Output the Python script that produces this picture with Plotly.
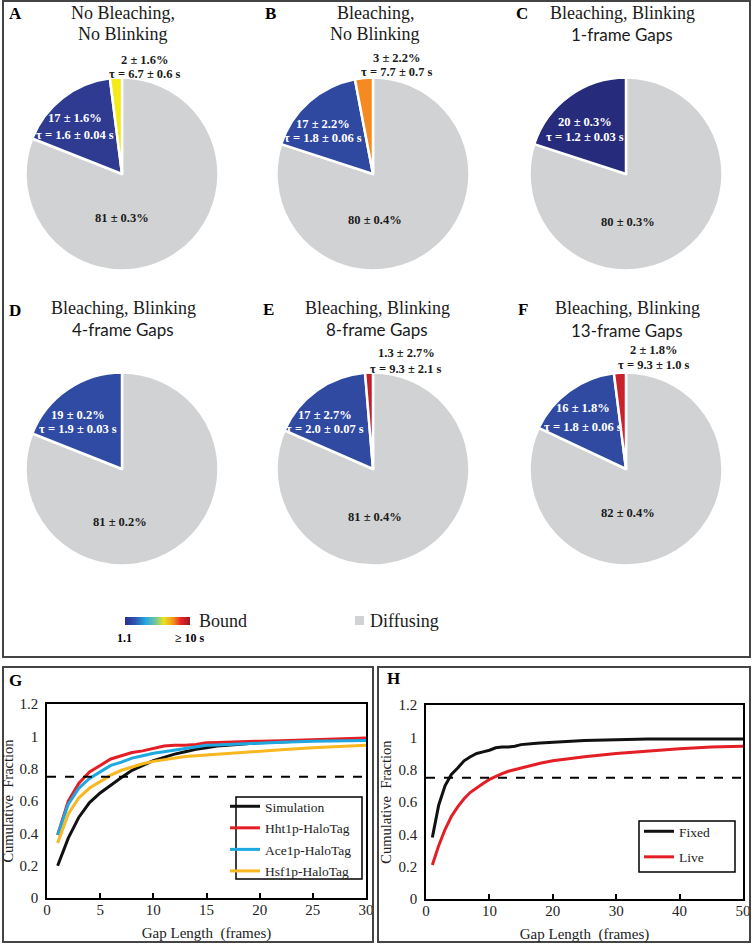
import plotly.graph_objects as go
import numpy as np

W, H = 753, 944
SERIF = "Liberation Serif, Times New Roman, serif"
SANS = "Lato, Open Sans, sans-serif"

# ---------------- Pie data (panels A-F) ----------------
panel_letters = ["A", "B", "C", "D", "E", "F"]
title_line1 = ["No Bleaching,", "Bleaching,", "Bleaching, Blinking",
               "Bleaching, Blinking", "Bleaching, Blinking", "Bleaching, Blinking"]
title_line2 = ["No Blinking", "No Blinking", "1-frame Gaps",
               "4-frame Gaps", "8-frame Gaps", "13-frame Gaps"]
title_line2_sans = [False, False, True, True, True, True]

diffusing_pct = [81, 80, 80, 81, 81, 82]
bound_fast_pct = [17, 17, 20, 19, 17, 16]
bound_slow_pct = [2, 3, 0, 0, 1.3, 2]

diffusing_text = ["81 ± 0.3%", "80 ± 0.4%", "80 ± 0.3%", "81 ± 0.2%", "81 ± 0.4%", "82 ± 0.4%"]
fast_text = [("17 ± 1.6%", "τ = 1.6 ± 0.04 s"), ("17 ± 2.2%", "τ = 1.8 ± 0.06 s"),
             ("20 ± 0.3%", "τ = 1.2 ± 0.03 s"), ("19 ± 0.2%", "τ = 1.9 ± 0.03 s"),
             ("17 ± 2.7%", "τ = 2.0 ± 0.07 s"), ("16 ± 1.8%", "τ = 1.8 ± 0.06 s")]
slow_text = [("2 ± 1.6%", "τ = 6.7 ± 0.6 s"), ("3 ± 2.2%", "τ = 7.7 ± 0.7 s"), None, None,
             ("1.3 ± 2.7%", "τ = 9.3 ± 2.1 s"), ("2 ± 1.8%", "τ = 9.3 ± 1.0 s")]

# styles
diff_color = "#d1d2d4"
fast_colors = ["#2e3b91", "#2f48a0", "#262b7b", "#2f4ba3", "#2f4aa0", "#2f4aa0"]
slow_colors = ["#f4ea16", "#f58a22", None, None, "#c1202b", "#c8232c"]

# layout (pixel positions)
pie_centers = [(122, 174), (373, 174), (626, 174), (122, 469), (373, 469), (626, 469)]
pie_r = 96.5
letter_pos = [(16, 13), (270, 13), (522, 13), (15, 310), (268, 309), (523, 309)]
title_x = [123, 375, 622, 123, 377, 627]
title_y1 = [13, 13, 13, 308, 308, 308]
title_y2 = [34, 34, 34, 329, 329, 330]
diff_lab_pos = [(122, 218), (375, 220), (628, 222), (120, 522), (375, 517), (628, 513)]
fast_lab_pos = [(75, 118, 135), (323, 124, 138), (585, 122, 137), (78, 415, 429), (325, 415, 429), (583, 408, 427)]
slow_lab_pos = [(145, 60, 74), (397, 58, 72), None, None, (406, 353, 369), (654, 350, 365)]

# ---------------- Gap-length CDF data (panels G, H) ----------------
g_x = [1, 2, 3, 4, 5, 6, 7, 8, 9, 10, 11, 12, 13, 14, 15, 16, 17, 18, 19, 20, 22, 25, 28, 30]
g_sim = [0.20, 0.37, 0.50, 0.59, 0.65, 0.70, 0.745, 0.79, 0.82, 0.85, 0.87, 0.89, 0.905, 0.92,
         0.93, 0.94, 0.945, 0.95, 0.955, 0.96, 0.965, 0.975, 0.978, 0.98]
g_hht = [0.39, 0.60, 0.71, 0.78, 0.82, 0.86, 0.88, 0.90, 0.91, 0.925, 0.94, 0.945, 0.945, 0.95,
         0.96, 0.962, 0.965, 0.967, 0.969, 0.97, 0.973, 0.98, 0.985, 0.99]
g_ace = [0.39, 0.58, 0.68, 0.74, 0.78, 0.82, 0.84, 0.865, 0.88, 0.895, 0.905, 0.915, 0.925, 0.935,
         0.945, 0.947, 0.95, 0.953, 0.957, 0.96, 0.963, 0.97, 0.973, 0.975]
g_hsf = [0.34, 0.52, 0.62, 0.68, 0.72, 0.76, 0.79, 0.81, 0.83, 0.845, 0.855, 0.865, 0.875, 0.88,
         0.885, 0.89, 0.895, 0.90, 0.905, 0.91, 0.917, 0.93, 0.94, 0.945]
g_names = ["Simulation", "Hht1p-HaloTag", "Ace1p-HaloTag", "Hsf1p-HaloTag"]

h_x = [1, 2, 3, 4, 5, 6, 7, 8, 9, 10, 11, 12, 13, 14, 15, 16, 17, 18, 20, 25, 30, 35, 40, 45, 50]
h_fixed = [0.38, 0.58, 0.70, 0.77, 0.81, 0.855, 0.88, 0.90, 0.91, 0.92, 0.935, 0.94, 0.94, 0.945,
           0.955, 0.96, 0.962, 0.965, 0.97, 0.98, 0.985, 0.99, 0.99, 0.99, 0.99]
h_live = [0.21, 0.33, 0.43, 0.51, 0.57, 0.62, 0.66, 0.69, 0.715, 0.74, 0.76, 0.775, 0.79, 0.80,
          0.81, 0.82, 0.83, 0.84, 0.855, 0.88, 0.90, 0.915, 0.93, 0.94, 0.945]
h_names = ["Fixed", "Live"]
threshold = 0.75

# colour-bar legend values (tau, s)
tau_scale = np.linspace(1.1, 10, 80)


def px(x):
    return x / W


def py(y):
    return 1 - y / H


fig = go.Figure()
annotations = []
shapes = []


def ann(x, y, text, size, color="black", family=SERIF, xanchor="center", yanchor="middle"):
    annotations.append(dict(x=px(x), y=py(y), xref="paper", yref="paper", text=text,
                            showarrow=False, font=dict(size=size, color=color, family=family),
                            xanchor=xanchor, yanchor=yanchor))


for i in range(6):
    cx, cy = pie_centers[i]
    vals = [diffusing_pct[i], bound_fast_pct[i]]
    cols = [diff_color, fast_colors[i]]
    if bound_slow_pct[i] > 0:
        vals.append(bound_slow_pct[i])
        cols.append(slow_colors[i])
    fig.add_trace(go.Pie(values=vals, sort=False, direction="clockwise", rotation=0,
                         marker=dict(colors=cols, line=dict(color="white", width=2.5)),
                         textinfo="none", hoverinfo="skip", showlegend=False,
                         domain=dict(x=[px(cx - pie_r), px(cx + pie_r)],
                                     y=[py(cy + pie_r), py(cy - pie_r)])))
    ann(letter_pos[i][0], letter_pos[i][1], "<b>%s</b>" % panel_letters[i], 17)
    ann(title_x[i], title_y1[i], title_line1[i], 18, color="#1a1a1a")
    if title_line2_sans[i]:
        ann(title_x[i], title_y2[i], title_line2[i], 17, family=SANS, color="#1a1a1a")
    else:
        ann(title_x[i], title_y2[i], title_line2[i], 18, color="#1a1a1a")
    dx, dy = diff_lab_pos[i]
    ann(dx, dy, "<b>%s</b>" % diffusing_text[i], 12.5, color="#1a1a1a")
    fx, fy1, fy2 = fast_lab_pos[i]
    ann(fx, fy1, "<b>%s</b>" % fast_text[i][0], 12.5, color="white")
    ann(fx, fy2, "<b>%s</b>" % fast_text[i][1], 12.5, color="white")
    if slow_text[i] is not None:
        sx, sy1, sy2 = slow_lab_pos[i]
        ann(sx, sy1, "<b>%s</b>" % slow_text[i][0], 12.5, color="#1a1a1a")
        ann(sx, sy2, "<b>%s</b>" % slow_text[i][1], 12.5, color="#1a1a1a")

# colour-bar legend
fig.add_trace(go.Heatmap(z=[tau_scale], x=tau_scale, y=[0], xaxis="x3", yaxis="y3",
                         colorscale=[[0, "#2a2f8c"], [0.15, "#2f55b2"], [0.32, "#27a9e1"],
                                     [0.47, "#72c59b"], [0.6, "#e8e41b"], [0.74, "#f7941d"],
                                     [0.87, "#e52329"], [1, "#9b1b21"]],
                         showscale=False, hoverinfo="skip"))
ann(197, 621, "Bound", 18, xanchor="left", color="#1a1a1a")
ann(124, 638, "<b>1.1</b>", 12)
ann(190, 638, "<b>≥ 10 s</b>", 12)
shapes.append(dict(type="rect", xref="paper", yref="paper", x0=px(355), x1=px(364),
                   y0=py(625), y1=py(616), fillcolor=diff_color, line=dict(width=0)))
ann(368, 621, "Diffusing", 18, xanchor="left", color="#1a1a1a")

# Panel G
g_colors = ["#111111", "#e31e25", "#1ea8e0", "#f9b81f"]
for k, (ys, nm, c) in enumerate(zip([g_sim, g_hht, g_ace, g_hsf], g_names, g_colors)):
    fig.add_trace(go.Scatter(x=g_x, y=ys, mode="lines", name=nm, line=dict(color=c, width=3),
                             xaxis="x", yaxis="y", legend="legend", legendgroup="g%d" % k))
fig.add_trace(go.Scatter(x=[0, 30], y=[threshold, threshold], mode="lines", showlegend=False,
                         line=dict(color="black", width=2, dash="dash"), xaxis="x", yaxis="y"))

# Panel H
h_colors = ["#111111", "#e31e25"]
for k, (ys, nm, c) in enumerate(zip([h_fixed, h_live], h_names, h_colors)):
    fig.add_trace(go.Scatter(x=h_x, y=ys, mode="lines", name=nm, line=dict(color=c, width=3),
                             xaxis="x2", yaxis="y2", legend="legend2", legendgroup="h%d" % k))
fig.add_trace(go.Scatter(x=[0, 50], y=[threshold, threshold], mode="lines", showlegend=False,
                         line=dict(color="black", width=2, dash="dash"), xaxis="x2", yaxis="y2"))

tickfont = dict(family=SERIF, size=15, color="#222")
xaxis_common = dict(showgrid=False, zeroline=False, showline=True, linecolor="black",
                    linewidth=1.5, mirror=True, ticks="inside", ticklen=5, tickwidth=1.5,
                    tickcolor="black", tickfont=tickfont, automargin=False, ticklabelstandoff=-3)
yaxis_common = dict(showgrid=False, zeroline=False, showline=True, linecolor="black",
                    linewidth=1.5, mirror=True, ticks="", tickfont=tickfont, automargin=False,
                    ticklabelstandoff=4)
ylab = dict(text="Cumulative  Fraction", font=dict(family=SERIF, size=14.5, color="#222"), standoff=3)
xlab = dict(text="Gap Length  (frames)", font=dict(family=SERIF, size=15, color="#222"), standoff=11)

ann(16, 680, "<b>G</b>", 17)
ann(393, 678, "<b>H</b>", 17)

# legend boxes
shapes.append(dict(type="rect", xref="paper", yref="paper", x0=px(236), x1=px(362),
                   y0=py(879), y1=py(797), line=dict(color="black", width=1.5)))
shapes.append(dict(type="rect", xref="paper", yref="paper", x0=px(639), x1=px(735),
                   y0=py(872), y1=py(821), line=dict(color="black", width=1.5)))

# outer frames
shapes.append(dict(type="rect", xref="paper", yref="paper", x0=px(3), x1=px(750),
                   y0=py(657), y1=py(1), line=dict(color="#444", width=2)))
shapes.append(dict(type="rect", xref="paper", yref="paper", x0=px(3), x1=px(373),
                   y0=py(942), y1=py(667), line=dict(color="#444", width=2)))
shapes.append(dict(type="rect", xref="paper", yref="paper", x0=px(378), x1=px(750),
                   y0=py(942), y1=py(667), line=dict(color="#444", width=2)))

fig.update_layout(
    template="none",
    width=W, height=H, margin=dict(l=0, r=0, t=0, b=0, pad=0, autoexpand=False),
    paper_bgcolor="white", plot_bgcolor="white",
    xaxis=dict(domain=[px(47), px(366)], range=[0, 30], dtick=5, title=xlab, anchor="y", **xaxis_common),
    yaxis=dict(domain=[py(898), py(704)], range=[0, 1.2], dtick=0.2, title=ylab, anchor="x", **yaxis_common),
    xaxis2=dict(domain=[px(426), px(743)], range=[0, 50], dtick=10, title=xlab, anchor="y2", **xaxis_common),
    yaxis2=dict(domain=[py(899), py(705)], range=[0, 1.2], dtick=0.2, title=ylab, anchor="x2", **yaxis_common),
    xaxis3=dict(domain=[px(125), px(190)], visible=False, anchor="y3", automargin=False),
    yaxis3=dict(domain=[py(625), py(617)], visible=False, anchor="x3", automargin=False),
    legend=dict(x=px(225), y=py(791), xanchor="left", yanchor="top", bgcolor="rgba(0,0,0,0)",
                borderwidth=0, font=dict(family=SERIF, size=13.5, color="#222"),
                itemwidth=30, tracegroupgap=1),
    legend2=dict(x=px(639), y=py(816), xanchor="left", yanchor="top", bgcolor="rgba(0,0,0,0)",
                 borderwidth=0, font=dict(family=SERIF, size=13.5, color="#222"),
                 itemwidth=30, tracegroupgap=5),
    annotations=annotations, shapes=shapes,
)
fig.write_html("out.html", config={"displayModeBar": False},
               post_script="document.body.style.margin='0';document.body.style.overflow='hidden';")
